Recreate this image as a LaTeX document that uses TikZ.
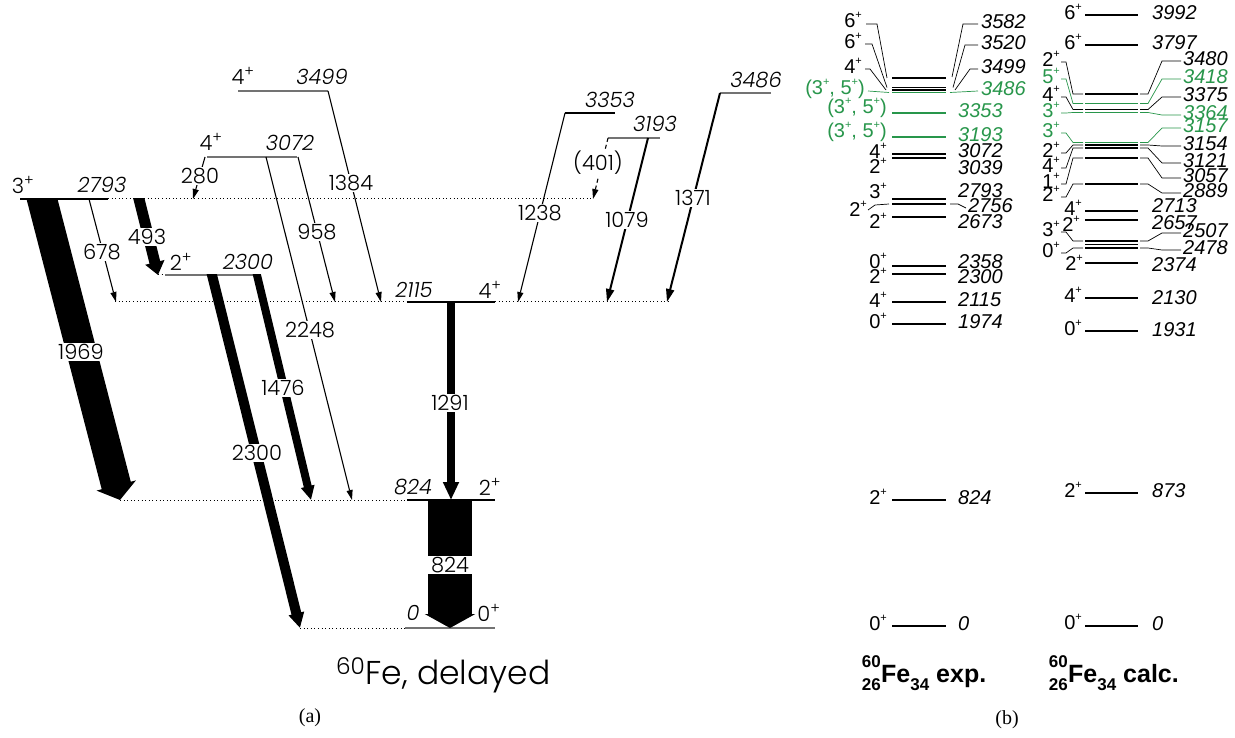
\documentclass[tikz,border=0pt]{standalone}
\usepackage{fontspec}
\setmainfont{Liberation Serif}
\newfontfamily\rfont{Liberation Sans}
\IfFontExistsTF{Poppins Light Italic}{%
  \newfontfamily\lfont{Poppins Light}[ItalicFont={Poppins Light Italic}]}{%
  \newfontfamily\lfont{Poppins}}
\usetikzlibrary{arrows.meta,calc}
\definecolor{lvgreen}{RGB}{40,150,75}
\newcommand\Jl[1]{#1\textsuperscript{+}}
\newcommand\Jr[1]{#1\raisebox{9pt}{\fontsize{11}{11}\selectfont +}}
\newcommand\fatarrow[6]{%
  \begin{scope}
  \clip (0,#3) rectangle (1235,738);
  \draw[line width=#4pt,-{Triangle[length=#6pt,width=#5pt]}] ($(#2)!1.15!(#1)$) -- (#2);
  \end{scope}}
\tikzset{
 lvlk/.style={line width=1.3pt},
 lvlg/.style={line width=1.1pt, black!55},
 dotl/.style={line width=1pt, dash pattern=on 1pt off 2.6pt},
 tarr/.style={line width=1.1pt, -{Triangle[length=10pt,width=6pt]}},
 marr/.style={line width=2pt, -{Triangle[length=13pt,width=8pt]}},
 tlab/.style={font=\lfont\fontsize{21}{21}\selectfont, fill=white, inner sep=1pt},
 llab/.style={font=\lfont\fontsize{21}{21}\selectfont, inner sep=0pt},
 elab/.style={font=\rfont\itshape\fontsize{20}{20}\selectfont, inner sep=0pt, anchor=mid west, yshift=-2pt},
 slab/.style={font=\rfont\fontsize{20}{20}\selectfont, inner sep=0pt, anchor=mid east, yshift=-2pt},
 rlv/.style={line width=1.8pt},
 ldr/.style={line width=0.7pt},
}
\begin{document}
\begin{tikzpicture}[x=1pt,y=-1pt]
\useasboundingbox (0,0) rectangle (1235,738);
% ================= (a) level scheme =================
% levels
\draw[lvlk] (20,199) -- (108,199);
\draw[dotl] (108,199) -- (593,199);
\draw[dotl] (115,302) -- (407,302);
\draw[lvlk] (407,302) -- (495,302);
\draw[dotl] (495,302) -- (668,302);
\draw[dotl] (120,500) -- (407,500);
\draw[lvlk] (407,500) -- (495,500);
\draw[dotl] (300,628) -- (405,628);
\draw[lvlg] (405,628) -- (495,628);
\draw[dotl] (158,275) -- (165,275);
\draw[lvlg] (165,275) -- (256,275);
\draw[lvlg] (207,157) -- (297,157);
\draw[lvlg] (238,91) -- (328,91);
\draw[line width=1.1pt] (565,113) -- (615,113);
\draw[lvlg] (608,138) -- (660,138);
\draw[lvlg] (720,93) -- (771,93);
% fat transitions
\fatarrow{42,199}{120,500}{199}{30}{40}{15}
\fatarrow{139,199}{158,275}{199}{11}{19}{13}
\fatarrow{212,275}{300,628}{275}{10}{15}{15}
\fatarrow{257,275}{311,500}{275}{8}{13}{14}
\fatarrow{451,302}{451,500}{302}{8}{15}{18}
\fatarrow{450,500}{450,628}{500}{44}{50}{14}
% thin transitions
\draw[tarr] (89,199) -- (116,302);
\draw[tarr] (266,157) -- (352,500);
\draw[tarr] (298,157) -- (335,302);
\draw[tarr] (328,91) -- (381,302);
\draw[tarr] (205,157) -- (193,199);
\draw[tarr] (565,113) -- (518,302);
\draw[tarr, dash pattern=on 4pt off 3pt] (608,138) -- (593,199);
\draw[marr] (648,138) -- (607,302);
\draw[marr] (720,93) -- (667,302);
% transition labels
\node[tlab] (g280) at (200,176) {280};
\node[tlab] (g678) at (102,252) {678};
\node[tlab] (g493) at (147,237) {493};
\node[tlab] (g958) at (317,232) {958};
\node[tlab] (g1384) at (351,183) {1384};
\node[tlab] (g1969) at (81,352) {1969};
\node[tlab] (g2300) at (257,453) {2300};
\node[tlab] (g1476) at (283,388) {1476};
\node[tlab] (g2248) at (310,330) {2248};
\node[tlab] (g1291) at (450,403) {1291};
\node[tlab, inner xsep=4pt] (g824) at (450,565) {824};
\node[tlab] (g1238) at (540,213) {1238};
\node[tlab] (g401) at (598,163) {(401)};
\node[tlab] (g1079) at (627,220) {1079};
\node[tlab] (g1371) at (693,198) {1371};
% level labels
\node[llab] (s3499) at (243,76) {\Jl{4}};
\node[llab] (e3499) at (322,77) {\itshape 3499};
\node[llab] (s3072) at (211,142) {\Jl{4}};
\node[llab] (e3072) at (290,143) {\itshape 3072};
\node[llab] (s2793) at (23,185) {\Jl{3}};
\node[llab] (e2793) at (102,185) {\itshape 2793};
\node[llab] (s2300) at (181,262) {\Jl{2}};
\node[llab] (e2300) at (248,262) {\itshape 2300};
\node[llab] (e2115) at (414,290) {\itshape 2115};
\node[llab] (s2115) at (490,290) {\Jl{4}};
\node[llab] (e3353) at (610,100) {\itshape 3353};
\node[llab] (e3193) at (655,124) {\itshape 3193};
\node[llab] (e3486) at (756,80) {\itshape 3486};
\node[llab] (e824) at (413,487) {\itshape 824};
\node[llab] (s824) at (490,487) {\Jl{2}};
\node[llab] (e0) at (413,613) {\itshape 0};
\node[llab] (s0) at (489,613) {\Jl{0}};
\node[anchor=base west, font=\lfont\fontsize{33}{33}\selectfont, inner sep=0pt] (title) at (336,684) {\textsuperscript{60}Fe, delayed};
\node[font=\fontsize{20}{20}\selectfont] (capa) at (310,718) {(a)};
% ================= (b) exp column =================
\foreach \y in {626,500,324,302,274,266,217,204,199,158,154,78,87.5,90}
  \draw[rlv] (892,\y) -- (946,\y);
\foreach \y in {137,113,92.5}
  \draw[rlv,lvgreen] (892,\y) -- (946,\y);
% exp energies
\node[elab] (xe0) at (958,626) {0};
\node[elab] (xe824) at (958,500) {824};
\node[elab] (xe1974) at (958,324) {1974};
\node[elab] (xe2115) at (958,302) {2115};
\node[elab] (xe2300) at (958,279) {2300};
\node[elab] (xe2358) at (958,264) {2358};
\node[elab] (xe2673) at (958,224) {2673};
\node[elab] (xe2793) at (958,193) {2793};
\node[elab] (xe3039) at (958,170) {3039};
\node[elab] (xe3072) at (958,153) {3072};
\node[elab,text=lvgreen] (xe3193) at (958,137) {3193};
\node[elab,text=lvgreen] (xe3353) at (958,113) {3353};
\node[elab] (xe2756) at (968,208) {2756};
\node[elab,text=lvgreen] (xe3486) at (981,91) {3486};
\node[elab] (xe3499) at (981,69) {3499};
\node[elab] (xe3520) at (981,45) {3520};
\node[elab] (xe3582) at (981,24) {3582};
\draw[ldr] (952,77) -- (963,24) -- (978,24);
\draw[ldr] (953,87.5) -- (965,45) -- (978,45);
\draw[ldr] (955,90) -- (970,69) -- (978,69);
\draw[ldr,lvgreen] (950,92.5) -- (978,91);
\draw[ldr] (950,204) -- (958,204) -- (966,208);
% exp spins
\node[slab] (xs0) at (887,626) {\Jr{0}};
\node[slab] (xs824) at (887,500) {\Jr{2}};
\node[slab] (xs1974) at (887,324) {\Jr{0}};
\node[slab] (xs2115) at (887,303) {\Jr{4}};
\node[slab] (xs2300) at (887,279) {\Jr{2}};
\node[slab] (xs2358) at (887,264) {\Jr{0}};
\node[slab] (xs2673) at (887,224) {\Jr{2}};
\node[slab] (xs2793) at (887,194) {\Jr{3}};
\node[slab] (xs3039) at (887,169) {\Jr{2}};
\node[slab] (xs3072) at (887,154) {\Jr{4}};
\node[slab,text=lvgreen] (xs3193) at (887,133) {(\Jr{3}, \Jr{5})};
\node[slab,text=lvgreen] (xs3353) at (887,109) {(\Jr{3}, \Jr{5})};
\node[slab] (xs2756) at (867,212) {\Jr{2}};
\node[slab,text=lvgreen] (xs3486) at (865,90) {(\Jr{3}, \Jr{5})};
\node[slab] (xs3499) at (862,69) {\Jr{4}};
\node[slab] (xs3520) at (862,44) {\Jr{6}};
\node[slab] (xs3582) at (862,23) {\Jr{6}};
\draw[ldr] (866,24) -- (877,24) -- (887,78);
\draw[ldr] (865,44) -- (872,44) -- (887,87.5);
\draw[ldr] (865,69) -- (870,69) -- (886,90);
\draw[ldr,lvgreen] (868,91) -- (889,92.5);
\draw[ldr] (868,210) -- (875,205) -- (889,204);
% ================= (b) calc column =================
\foreach \y in {626,493,331,298,263,248,244.5,241,220,211,184,158,148,145,109.5,94,45,15}
  \draw[rlv] (1085,\y) -- (1138,\y);
\foreach \y in {142.5,112.5,103.5}
  \draw[rlv,lvgreen] (1085,\y) -- (1138,\y);
\draw[rlv] (1085,109.5) -- (1138,109.5);
% calc energies, no leader
\node[elab] (ce0) at (1152,626) {0};
\node[elab] (ce873) at (1152,493) {873};
\node[elab] (ce1931) at (1152,332) {1931};
\node[elab] (ce2130) at (1152,300) {2130};
\node[elab] (ce2374) at (1152,267) {2374};
\node[elab] (ce2657) at (1152,225) {2657};
\node[elab] (ce2713) at (1152,208) {2713};
\node[elab] (ce3797) at (1152,45) {3797};
\node[elab] (ce3992) at (1152,15) {3992};
% calc energies with leaders
\foreach \yl/\yt/\t/\c in {94/61/3480/black, 103.5/79/3418/lvgreen, 109.5/97/3375/black, 112.5/115/3364/lvgreen,
   142.5/128/3157/lvgreen, 145/146/3154/black, 148/163/3121/black, 158/178/3057/black, 184/193/2889/black,
   241/233/2507/black, 248/250/2478/black}{
  \draw[ldr,\c] (1140,\yl) -- (1148,\yl) -- (1162,\yt) -- (1181,\yt);
  \node[elab,text=\c] (ce\t) at (1183,\yt) {\t};
}
% calc spins, no leader
\node[slab] (cs0) at (1082,625) {\Jr{0}};
\node[slab] (cs873) at (1082,493) {\Jr{2}};
\node[slab] (cs1931) at (1082,331) {\Jr{0}};
\node[slab] (cs2130) at (1082,298) {\Jr{4}};
\node[slab] (cs2374) at (1083,266) {\Jr{2}};
\node[slab] (cs2657) at (1080,227) {\Jr{2}};
\node[slab] (cs2713) at (1082,211) {\Jr{4}};
\node[slab] (cs3797) at (1082,45) {\Jr{6}};
\node[slab] (cs3992) at (1082,15) {\Jr{6}};
% calc spins with leaders
\foreach \yl/\yt/\s/\c/\n in {94/62/2/black/a, 103.5/79/5/lvgreen/b, 109.5/97/4/black/c, 112.5/113/3/lvgreen/d,
   142.5/133/3/lvgreen/e, 145/153/2/black/f, 148/168/4/black/g, 158/184/1/black/h, 184/197/2/black/i,
   241/232/3/black/j, 248/253/0/black/k}{
  \draw[ldr,\c] (1061,\yt) -- (1066,\yt) -- (1073,\yl) -- (1083,\yl);
  \node[slab,text=\c] (cs\n) at (1060,\yt) {\Jr{\s}};
}
% bottom labels
\node[anchor=base east, inner sep=0pt, font=\rfont\bfseries\fontsize{17}{17}\selectfont] (xA) at (881,667) {60};
\node[anchor=base east, inner sep=0pt, font=\rfont\bfseries\fontsize{17}{17}\selectfont] (xZ) at (881,690) {26};
\node[anchor=base west, inner sep=0pt, font=\rfont\bfseries\fontsize{25}{25}\selectfont] (xFe) at (881,682) {Fe\raisebox{-8pt}{\fontsize{17}{17}\selectfont 34} exp.};
\node[anchor=base east, inner sep=0pt, font=\rfont\bfseries\fontsize{17}{17}\selectfont] (cA) at (1068,667) {60};
\node[anchor=base east, inner sep=0pt, font=\rfont\bfseries\fontsize{17}{17}\selectfont] (cZ) at (1068,690) {26};
\node[anchor=base west, inner sep=0pt, font=\rfont\bfseries\fontsize{25}{25}\selectfont] (cFe) at (1068,682) {Fe\raisebox{-8pt}{\fontsize{17}{17}\selectfont 34} calc.};
\node[font=\fontsize{20}{20}\selectfont] (capb) at (1007,720) {(b)};
\end{tikzpicture}
\end{document}
